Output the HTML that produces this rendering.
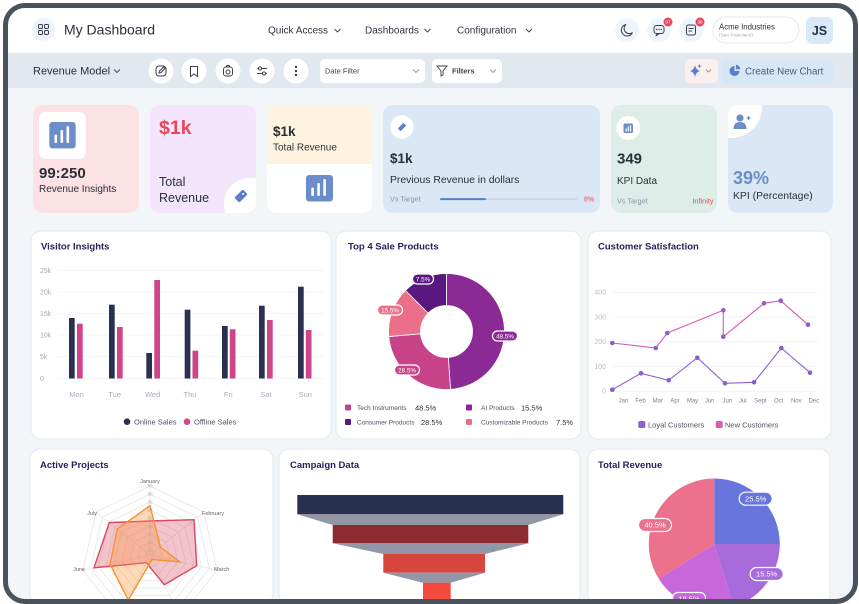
<!DOCTYPE html>
<html><head><meta charset="utf-8">
<style>
*{margin:0;padding:0;box-sizing:border-box}
html,body{width:859px;height:604px;overflow:hidden;background:#fff;font-family:"Liberation Sans",sans-serif}
svg{position:absolute;left:0;top:0}
.frame{position:absolute;left:3px;top:3px;width:855px;height:601px;border:5px solid #4a525c;border-radius:22px;box-shadow:0 0 0 40px #fff}
</style></head><body>
<svg width="859" height="604" viewBox="0 0 859 604" xmlns="http://www.w3.org/2000/svg" font-family="Liberation Sans, sans-serif">
<defs>
<clipPath id="c2"><rect x="150" y="105" width="106" height="108" rx="10"/></clipPath>
<clipPath id="c3"><rect x="267" y="105" width="105" height="108" rx="10"/></clipPath>
<clipPath id="c6"><rect x="728" y="105" width="105" height="108" rx="10"/></clipPath>
<polygon id="hep" points="0,-1 0.7818,-0.6235 0.9749,0.2225 0.4339,0.901 -0.4339,0.901 -0.9749,0.2225 -0.7818,-0.6235" fill="none" stroke="#e6e6e6" stroke-width="0.8" vector-effect="non-scaling-stroke"/>
</defs>
<!-- backgrounds -->
<rect width="859" height="604" fill="#f3f6f9"/>
<rect width="859" height="53" fill="#fff"/>
<rect y="53" width="859" height="35" fill="#e2e8f0"/>

<!-- header -->
<circle cx="43.5" cy="29.5" r="11.5" fill="#eef3fa"/>
<g fill="none" stroke="#3a3f4b" stroke-width="1">
<rect x="38.5" y="24.5" width="4" height="4" rx="1.2"/><rect x="44.5" y="24.5" width="4" height="4" rx="1.2"/>
<rect x="38.5" y="30.5" width="4" height="4" rx="1.2"/><rect x="44.5" y="30.5" width="4" height="4" rx="1.2"/>
</g>
<text x="64" y="34.5" font-size="14" fill="#2b2f3a">My Dashboard</text>
<text x="268" y="33.5" font-size="10" fill="#2f3440">Quick Access</text>
<text x="365" y="33.5" font-size="10" fill="#2f3440">Dashboards</text>
<text x="457" y="33.5" font-size="10" fill="#2f3440">Configuration</text>
<g fill="none" stroke="#3a3f4b" stroke-width="0.9">
<path d="M334.5,29 l3,3 l3,-3"/><path d="M424.5,29 l3,3 l3,-3"/><path d="M526,29 l3,3 l3,-3"/>
<path d="M786,29.5 l3,3 l3,-3"/><path d="M114,69.5 l3,3 l3,-3"/>
</g>
<circle cx="627" cy="30" r="12" fill="#eef4fb"/>
<circle cx="659" cy="30" r="12" fill="#eef4fb"/>
<circle cx="691" cy="30" r="12" fill="#eef4fb"/>
<g fill="none" stroke="#3a3f4b" stroke-width="1">
<path d="M626,24.5 a5.8,5.8 0 1 0 6.5,8 a4.6,4.6 0 0 1 -6.5,-8 z"/>
<rect x="654" y="25.5" width="10" height="8" rx="2.5"/><path d="M657,33.5 l-1,2.5 l3,-2.5"/>
<rect x="686.5" y="25" width="9" height="10" rx="2"/><path d="M688.5,28.5 h5 M688.5,31 h3.5"/>
</g>
<g fill="#3a3f4b"><circle cx="656.7" cy="29.5" r="0.7"/><circle cx="659" cy="29.5" r="0.7"/><circle cx="661.3" cy="29.5" r="0.7"/></g>
<circle cx="668" cy="22" r="4.5" fill="#e8475f"/><text x="668" y="23.7" font-size="4.6" fill="#fff" text-anchor="middle">07</text>
<circle cx="700" cy="22" r="4.5" fill="#e8475f"/><text x="700" y="23.7" font-size="4.6" fill="#fff" text-anchor="middle">38</text>
<rect x="713" y="17" width="86" height="26" rx="13" fill="#fff" stroke="#e6eaf0"/>
<text x="719" y="29.5" font-size="7.8" fill="#2b2f3a">Acme Industries</text>
<text x="719" y="36.5" font-size="4.8" fill="#a0a8b5">(San Francisco)</text>
<rect x="806" y="17" width="27" height="27" rx="6" fill="#d8eafa"/>
<text x="819.5" y="35" font-size="12.5" font-weight="bold" fill="#2a2f3a" text-anchor="middle">JS</text>

<!-- toolbar -->
<text x="33" y="74.5" font-size="11" fill="#2b2f3a">Revenue Model</text>
<g fill="#fff"><circle cx="161" cy="71" r="12.5"/><circle cx="194" cy="71" r="12.5"/><circle cx="228" cy="71" r="12.5"/><circle cx="262" cy="71" r="12.5"/><circle cx="296" cy="71" r="12.5"/></g>
<g fill="none" stroke="#3a3f4b" stroke-width="1">
<rect x="156" y="66" width="10" height="10" rx="3"/><path d="M159,73 l0.5,-2 l4,-4 l1.5,1.5 l-4,4 z"/>
<path d="M190.5,66.5 h7 v10 l-3.5,-2.5 l-3.5,2.5 z"/>
<rect x="223.5" y="67" width="9" height="9" rx="2.5"/><circle cx="228" cy="72" r="2"/><path d="M226,67 l1,-1.5 h2 l1,1.5"/>
<path d="M257,68.5 h10 M257,73.5 h10"/>
</g>
<g fill="#fff" stroke="#3a3f4b" stroke-width="1"><circle cx="260" cy="68.5" r="1.6"/><circle cx="264" cy="73.5" r="1.6"/></g>
<g fill="#3a3f4b"><circle cx="296" cy="67" r="1.2"/><circle cx="296" cy="71" r="1.2"/><circle cx="296" cy="75" r="1.2"/></g>
<rect x="320" y="59" width="105" height="24" rx="5" fill="#fff"/>
<text x="325" y="73.5" font-size="7.5" fill="#3a3f4b">Date Filter</text>
<path d="M413,69.5 l3,3 l3,-3" fill="none" stroke="#8a93a6" stroke-width="0.9"/>
<rect x="432" y="59" width="70" height="24" rx="5" fill="#fff"/>
<path d="M437,66 h10 l-4,5 v4 l-2,1 v-5 z" fill="none" stroke="#3a3f4b" stroke-width="0.9"/>
<text x="452" y="73.5" font-size="7.5" font-weight="bold" fill="#3a3f4b">Filters</text>
<path d="M490,69.5 l3,3 l3,-3" fill="none" stroke="#8a93a6" stroke-width="0.9"/>
<rect x="685" y="59" width="33" height="24" rx="5" fill="#fcefef"/>
<path d="M695,65 q1,5 5,6 q-4,1 -5,6 q-1,-5 -5,-6 q4,-1 5,-6 z" fill="#5b7fd0"/>
<path d="M699.5,64 l0.6,1.5 l1.5,0.6 l-1.5,0.6 l-0.6,1.5 l-0.6,-1.5 l-1.5,-0.6 l1.5,-0.6 z" fill="#5b7fd0"/>
<path d="M706,69.5 l2.5,2.5 l2.5,-2.5" fill="none" stroke="#8a93a6" stroke-width="0.9"/>
<rect x="722" y="59" width="111" height="24" rx="5" fill="#d6e8f7"/>
<path d="M734.5,66 a5,5 0 1 0 5,5 h-5 z" fill="#5b7fd0"/><path d="M736,64.8 a5,5 0 0 1 4.5,4.5 h-4.5 z" fill="#5b7fd0"/>
<text x="745" y="74.5" font-size="9.8" fill="#4a5b7a">Create New Chart</text>

<!-- KPI cards -->
<rect x="33" y="105" width="106" height="108" rx="10" fill="#fde2e5"/>
<rect x="39" y="112" width="47" height="47" rx="7" fill="#fff"/>
<rect x="49.3" y="122" width="26.4" height="26.4" rx="3" fill="#6b8dca"/>
<g fill="#fff"><rect x="54.5" y="134.5" width="2.6" height="8.5" rx="1"/><rect x="60.5" y="130" width="2.6" height="13" rx="1"/><rect x="66.5" y="126" width="2.6" height="17" rx="1"/></g>
<text x="39" y="178" font-size="15" font-weight="bold" fill="#2b2f3a">99:250</text>
<text x="39" y="192" font-size="10" fill="#2b2f3a">Revenue Insights</text>

<rect x="150" y="105" width="106" height="108" rx="10" fill="#f3e6fc"/>
<circle cx="250" cy="204" r="26" fill="#fff" clip-path="url(#c2)"/>
<g transform="translate(241,196) rotate(45)"><rect x="-3.5" y="-6" width="7" height="12" rx="1.5" fill="#5c80c7"/><circle cy="-3" r="1" fill="#fff"/></g>
<text x="159" y="134" font-size="19.5" font-weight="bold" fill="#e9485f">$1k</text>
<text x="159" y="186" font-size="12.5" fill="#2b2f3a">Total</text>
<text x="159" y="202" font-size="12.5" fill="#2b2f3a">Revenue</text>

<rect x="267" y="105" width="105" height="108" rx="10" fill="#fff"/>
<rect x="267" y="105" width="105" height="59" fill="#fef3de" clip-path="url(#c3)"/>
<text x="273" y="136" font-size="13.5" font-weight="bold" fill="#2b2f3a">$1k</text>
<text x="273" y="150.5" font-size="10" fill="#2b2f3a">Total Revenue</text>
<rect x="306" y="175" width="27" height="26.5" rx="3" fill="#6b8dca"/>
<g fill="#fff"><rect x="311.3" y="187.5" width="2.6" height="8.5" rx="1"/><rect x="317.3" y="183" width="2.6" height="13" rx="1"/><rect x="323.3" y="179" width="2.6" height="17" rx="1"/></g>

<rect x="383" y="105" width="217" height="108" rx="10" fill="#dae8f5"/>
<circle cx="402" cy="127" r="11.7" fill="#fff"/>
<g transform="translate(402,127) rotate(45)"><rect x="-2" y="-4" width="4" height="8" rx="1" fill="#5c80c7"/></g>
<text x="390" y="163" font-size="13.5" font-weight="bold" fill="#2b2f3a">$1k</text>
<text x="390" y="183" font-size="10.4" fill="#2b2f3a">Previous Revenue in dollars</text>
<text x="390" y="201.5" font-size="7.3" fill="#8a93a6">Vs Target</text>
<rect x="440" y="198.3" width="137" height="1.6" rx="0.8" fill="#c6d4e6"/>
<rect x="440" y="198.1" width="46" height="2" rx="1" fill="#5a80c4"/>
<text x="584" y="201.5" font-size="7" fill="#e9485f">8%</text>

<rect x="611" y="105" width="106" height="108" rx="10" fill="#deede8"/>
<circle cx="628.3" cy="128" r="12" fill="#fff"/>
<rect x="623.5" y="123.5" width="9.5" height="9.5" rx="1.5" fill="#6b8dca"/>
<g fill="#fff"><rect x="625.5" y="128.5" width="1.2" height="3"/><rect x="627.7" y="126.5" width="1.2" height="5"/><rect x="629.9" y="125.5" width="1.2" height="6"/></g>
<text x="617" y="163.5" font-size="15" font-weight="bold" fill="#2b2f3a">349</text>
<text x="617" y="184" font-size="10" fill="#2b2f3a">KPI Data</text>
<text x="617" y="203.3" font-size="7.3" fill="#8a93a6">Vs Target</text>
<text x="713.5" y="203.3" font-size="7.3" fill="#e9485f" text-anchor="end">Infinity</text>

<rect x="728" y="105" width="105" height="108" rx="10" fill="#dae8f5"/>
<circle cx="731" cy="107" r="31" fill="#fff" clip-path="url(#c6)"/>
<circle cx="740" cy="118" r="3.6" fill="#6b8dca"/>
<path d="M733.5,129 q0,-7 6.5,-7 q6.5,0 6.5,7 z" fill="#6b8dca"/>
<path d="M746.5,118 h4 M748.5,116 v4" stroke="#6b8dca" stroke-width="1.3"/>
<text x="733" y="184" font-size="18" font-weight="bold" fill="#6b8dca">39%</text>
<text x="733" y="199" font-size="10.4" fill="#2b2f3a">KPI (Percentage)</text>

<!-- row 2 cards -->
<rect x="31" y="231" width="300" height="208" rx="10" fill="#fff" stroke="#e3e8ef"/>
<rect x="336" y="231" width="245" height="208" rx="10" fill="#fff" stroke="#e3e8ef"/>
<rect x="588" y="231" width="243" height="208" rx="10" fill="#fff" stroke="#e3e8ef"/>
<!-- row 3 cards -->
<rect x="30" y="449" width="243" height="155" rx="10" fill="#fff" stroke="#e3e8ef"/>
<rect x="279" y="449" width="301" height="155" rx="10" fill="#fff" stroke="#e3e8ef"/>
<rect x="588" y="449" width="242" height="155" rx="10" fill="#fff" stroke="#e3e8ef"/>

<g font-size="9.5" font-weight="bold" fill="#23225c">
<text x="41" y="249.7">Visitor Insights</text>
<text x="348" y="249.7">Top 4 Sale Products</text>
<text x="598" y="249.7">Customer Satisfaction</text>
<text x="40" y="468">Active Projects</text>
<text x="290" y="468">Campaign Data</text>
<text x="598" y="468">Total Revenue</text>
</g>

<!-- Visitor insights -->
<g stroke="#f0f2f6" stroke-width="0.8">
<path d="M58,270.5 H323 M58,292 H323 M58,313.5 H323 M58,335 H323 M58,356.5 H323 M58,378.5 H323"/>
</g>
<g font-size="7" fill="#a3acbd">
<text x="40" y="273">25k</text><text x="40" y="294.5">20k</text><text x="40" y="316">15k</text><text x="40" y="337.5">10k</text><text x="40" y="359">5k</text><text x="40" y="381">0</text>
</g>
<g fill="#2a3150">
<rect x="69" y="318" width="5.7" height="60.5"/><rect x="109" y="304.7" width="5.7" height="73.8"/><rect x="146.3" y="353" width="5.7" height="25.5"/>
<rect x="184.7" y="309.7" width="5.7" height="68.8"/><rect x="222" y="326" width="5.7" height="52.5"/><rect x="259" y="305.7" width="5.7" height="72.8"/><rect x="298" y="286.7" width="5.7" height="91.8"/>
</g>
<g fill="#d0448c">
<rect x="77" y="323.7" width="5.7" height="54.8"/><rect x="117" y="327" width="5.7" height="51.5"/><rect x="154.3" y="280" width="5.7" height="98.5"/>
<rect x="192.5" y="350.7" width="5.7" height="27.8"/><rect x="229.8" y="329.3" width="5.7" height="49.2"/><rect x="267" y="320" width="5.7" height="58.5"/><rect x="305.8" y="330" width="5.7" height="48.5"/>
</g>
<g font-size="7.5" fill="#a3acbd" text-anchor="middle">
<text x="76.5" y="397">Mon</text><text x="114.7" y="397">Tue</text><text x="152.7" y="397">Wed</text><text x="190" y="397">Thu</text><text x="228.3" y="397">Fri</text><text x="266" y="397">Sat</text><text x="305.3" y="397">Sun</text>
</g>
<circle cx="127" cy="421.7" r="3.3" fill="#2a3150"/><text x="134" y="424.5" font-size="7.5" fill="#4a5060">Online Sales</text>
<circle cx="187" cy="421.7" r="3.3" fill="#d0448c"/><text x="194" y="424.5" font-size="7.5" fill="#4a5060">Offline Sales</text>

<!-- Donut -->
<g stroke="#fff" stroke-width="0.8">
<path d="M446.5,273.5 A58,58 0 0 1 450.55,389.36 L448.31,357.44 A26,26 0 0 0 446.5,305.5 Z" fill="#8b2a94"/>
<path d="M450.55,389.36 A58,58 0 0 1 388.72,336.56 L420.6,333.77 A26,26 0 0 0 448.31,357.44 Z" fill="#c8428a"/>
<path d="M388.72,336.56 A58,58 0 0 1 405.49,290.49 L428.12,313.12 A26,26 0 0 0 420.6,333.77 Z" fill="#ec6f8a"/>
<path d="M405.49,290.49 A58,58 0 0 1 446.5,273.5 L446.5,305.5 A26,26 0 0 0 428.12,313.12 Z" fill="#5a1780"/>
</g>
<g stroke="#fff" stroke-width="1.2">
<rect x="492.5" y="331" width="25" height="10" rx="5" fill="#8b2a94"/>
<rect x="394.5" y="365" width="25" height="10" rx="5" fill="#c8428a"/>
<rect x="377.5" y="305" width="25" height="10" rx="5" fill="#ec6f8a"/>
<rect x="412.5" y="274" width="21" height="10" rx="5" fill="#5a1780"/>
</g>
<g font-size="6.3" fill="#fff" text-anchor="middle">
<text x="505" y="338.3">48.5%</text><text x="407" y="372.3">28.5%</text><text x="390" y="312.3">15.5%</text><text x="423" y="281.3">7.5%</text>
</g>
<rect x="345" y="404.5" width="6" height="6" rx="1" fill="#c8428a"/>
<rect x="466" y="404.5" width="6" height="6" rx="1" fill="#8b2a94"/>
<rect x="345" y="419" width="6" height="6" rx="1" fill="#5a1780"/>
<rect x="466" y="419" width="6" height="6" rx="1" fill="#ec6f8a"/>
<g font-size="6.5" fill="#4a5060">
<text x="357" y="410">Tech Instruments</text><text x="481" y="410">AI Products</text>
<text x="357" y="424.5">Consumer Products</text><text x="481" y="424.5">Customizable Products</text>
</g>
<g font-size="7.5" fill="#2b2f3a">
<text x="415" y="410.3">48.5%</text><text x="521" y="410.3">15.5%</text>
<text x="421" y="424.8">28.5%</text><text x="556" y="424.8">7.5%</text>
</g>

<!-- Customer Satisfaction -->
<g stroke="#f0f2f6" stroke-width="0.8">
<path d="M612,292.3 H818 M612,317 H818 M612,341.7 H818 M612,366.5 H818 M612,391.3 H818"/>
</g>
<g font-size="7" fill="#b8bfcc" text-anchor="end">
<text x="606" y="294.6">400</text><text x="606" y="319.3">300</text><text x="606" y="344">200</text><text x="606" y="368.8">100</text><text x="606" y="393.6">0</text>
</g>
<g font-size="6" fill="#7a8295" text-anchor="middle">
<text x="623.5" y="402.5">Jan</text><text x="640.5" y="402.5">Feb</text><text x="657.8" y="402.5">Mar</text><text x="675" y="402.5">Apr</text>
<text x="692.5" y="402.5">May</text><text x="709.7" y="402.5">Jun</text><text x="727.3" y="402.5">Jun</text><text x="742.8" y="402.5">Jul</text>
<text x="760.3" y="402.5">Sept</text><text x="778.7" y="402.5">Oct</text><text x="796.3" y="402.5">Nov</text><text x="813.8" y="402.5">Dec</text>
</g>
<polyline points="612.3,343 655.7,348 667.3,333 723.3,310.3 723.3,336.7 764,303.3 780.7,300.7 808,324.7" fill="none" stroke="#d95bb5" stroke-width="1.1"/>
<polyline points="612.3,389.7 641,373.3 668.7,380.3 697.3,357.7 725,383.3 754,382.3 781.3,348 810,372.7" fill="none" stroke="#8d5fd0" stroke-width="1.1"/>
<g fill="#8d5cc9">
<circle cx="612.3" cy="343" r="2.3"/><circle cx="655.7" cy="348" r="2.3"/><circle cx="667.3" cy="333" r="2.3"/><circle cx="723.3" cy="310.3" r="2.3"/>
<circle cx="723.3" cy="336.7" r="2.3"/><circle cx="764" cy="303.3" r="2.3"/><circle cx="780.7" cy="300.7" r="2.3"/><circle cx="808" cy="324.7" r="2.3"/>
<circle cx="612.3" cy="389.7" r="2.3"/><circle cx="641" cy="373.3" r="2.3"/><circle cx="668.7" cy="380.3" r="2.3"/><circle cx="697.3" cy="357.7" r="2.3"/>
<circle cx="725" cy="383.3" r="2.3"/><circle cx="754" cy="382.3" r="2.3"/><circle cx="781.3" cy="348" r="2.3"/><circle cx="810" cy="372.7" r="2.3"/>
</g>
<rect x="638.3" y="421" width="7" height="7" rx="1.5" fill="#8a5fcf"/><text x="648" y="427.5" font-size="7.5" fill="#4a5060">Loyal Customers</text>
<rect x="715.7" y="421" width="7" height="7" rx="1.5" fill="#d95bb5"/><text x="725" y="427.5" font-size="7.5" fill="#4a5060">New Customers</text>

<!-- Radar -->
<g>
<use href="#hep" transform="translate(150 555) scale(4.5)"/>
<use href="#hep" transform="translate(150 555) scale(12.55)"/>
<use href="#hep" transform="translate(150 555) scale(20.6)"/>
<use href="#hep" transform="translate(150 555) scale(28.65)"/>
<use href="#hep" transform="translate(150 555) scale(36.7)"/>
<use href="#hep" transform="translate(150 555) scale(44.75)"/>
<use href="#hep" transform="translate(150 555) scale(52.8)"/>
</g>
<g fill="none" stroke="#e6e6e6" stroke-width="0.8">
<path d="M118.15,603 L90.68,568.54 L102.43,517.06 L150,494.15 L197.57,517.06 L209.32,568.54 L181.85,603"/>
<path d="M108.87,603 L82.83,570.33 L96.13,512.04 L150,486.1 L203.87,512.04 L217.17,570.33 L191.13,603"/>
<path d="M150,555 L150,486 M150,555 L203.9,512 M150,555 L217.3,570.4 M150,555 L173.1,603 M150,555 L126.9,603 M150,555 L82.7,570.4 M150,555 L96.1,512"/>
</g>
<polygon points="150,521 194,519.7 196.7,565.7 164.3,584.7 146.3,562.7 94,567.8 109.3,522.6" fill="rgba(214,60,85,0.3)" stroke="#d9485f" stroke-width="1.4"/>
<polygon points="150,505.7 160.3,546.8 179.6,561.8 152,559.5 128.3,600 110,564.1 117.3,529" fill="rgba(252,150,60,0.35)" stroke="#f59331" stroke-width="1.4"/>
<g font-size="4.5" fill="#aaa" text-anchor="middle">
<text x="150" y="487.2">90</text><text x="150" y="495.3">80</text><text x="150" y="503.4">70</text><text x="150" y="511.4">60</text><text x="150" y="519.5">50</text>
<text x="150" y="527.5">40</text><text x="150" y="535.6">30</text><text x="150" y="543.6">20</text><text x="150" y="551.7">10</text>
</g>
<g font-size="5.5" fill="#666">
<text x="150" y="483" text-anchor="middle">January</text>
<text x="202" y="515">February</text>
<text x="214" y="571">March</text>
<text x="85" y="571" text-anchor="end">June</text>
<text x="97" y="515" text-anchor="end">July</text>
</g>

<!-- Funnel -->
<rect x="297.3" y="495" width="266" height="19.3" fill="#283150"/>
<path d="M297.3,514.3 H563.3 L528.3,525 H332.7 Z" fill="#9396a6"/>
<rect x="332.7" y="525" width="195.6" height="18.3" fill="#8c2c30"/>
<path d="M332.7,543.3 H528.3 L485,554 H383.3 Z" fill="#9396a6"/>
<rect x="383.3" y="554" width="101.7" height="18.7" fill="#d8453c"/>
<path d="M383.3,572.7 H485 L450.7,582.7 H423 Z" fill="#9396a6"/>
<rect x="423" y="582.7" width="27.7" height="21" fill="#f44a3e"/>

<!-- Pie -->
<path d="M714.3,544 L714.3,478.5 A65.5,65.5 0 0 1 779.8,544 Z" fill="#6875dc"/>
<path d="M714.3,544 L779.8,544 A65.5,65.5 0 0 1 742.75,603 L732.68,603 Z" fill="#a76bdc"/>
<path d="M714.3,544 L732.68,603 L685.85,603 A65.5,65.5 0 0 1 658.93,579 Z" fill="#c667da"/>
<path d="M714.3,544 L658.93,579 A65.5,65.5 0 0 1 714.3,478.5 Z" fill="#ec718d"/>
<g stroke="#fff" stroke-width="1.2">
<rect x="739.2" y="492.2" width="33" height="13" rx="6.5" fill="#6875dc"/>
<rect x="638.5" y="518.5" width="33" height="13" rx="6.5" fill="#ec718d"/>
<rect x="750.2" y="567.5" width="33" height="13" rx="6.5" fill="#a76bdc"/>
<rect x="672.5" y="592.5" width="33" height="11" rx="5.5" fill="#c667da"/>
</g>
<g font-size="7.5" fill="#fff" text-anchor="middle">
<text x="755.7" y="501.4">25.5%</text><text x="655" y="527.7">40.5%</text><text x="766.7" y="576.7">15.5%</text><text x="689" y="601.7">18.5%</text>
</g>
</svg>
<div class="frame"></div>
</body></html>
